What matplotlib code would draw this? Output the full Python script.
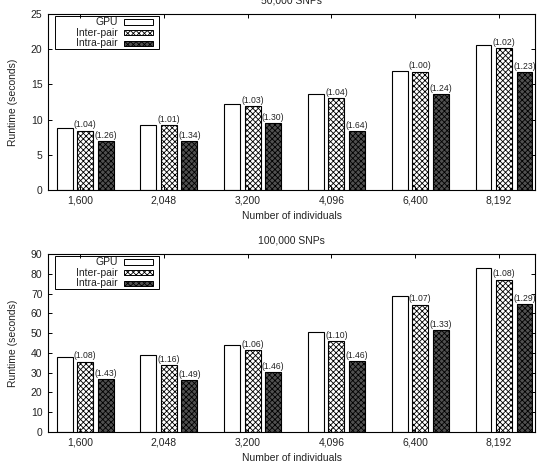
import matplotlib
matplotlib.use("Agg")
import matplotlib.pyplot as plt
from matplotlib.patches import Rectangle

plt.rcParams['font.family'] = ['Liberation Sans', 'DejaVu Sans']
plt.rcParams['hatch.linewidth'] = 0.6

individuals = ["1,600", "2,048", "3,200", "4,096", "6,400", "8,192"]
series = ["GPU", "Inter-pair", "Intra-pair"]

# 50,000 SNPs
gpu_50k = [8.76, 9.28, 12.26, 13.59, 16.86, 20.55]
inter_50k = [8.43, 9.19, 11.93, 13.07, 16.81, 20.12]
intra_50k = [6.91, 6.96, 9.47, 8.33, 13.64, 16.76]
inter_lbl_50k = ["(1.04)", "(1.01)", "(1.03)", "(1.04)", "(1.00)", "(1.02)"]
intra_lbl_50k = ["(1.26)", "(1.34)", "(1.30)", "(1.64)", "(1.24)", "(1.23)"]

# 100,000 SNPs
gpu_100k = [37.9, 38.7, 44.0, 50.4, 68.9, 83.1]
inter_100k = [35.5, 33.7, 41.3, 46.0, 64.3, 77.0]
intra_100k = [26.7, 26.2, 30.3, 35.7, 51.6, 64.5]
inter_lbl_100k = ["(1.08)", "(1.16)", "(1.06)", "(1.10)", "(1.07)", "(1.08)"]
intra_lbl_100k = ["(1.43)", "(1.49)", "(1.46)", "(1.46)", "(1.33)", "(1.29)"]

styles = [dict(facecolor="white", hatch=None),
          dict(facecolor="white", hatch="xxxxxx"),
          dict(facecolor="#505050", hatch="xxxxxx")]
TXT = "#222222"
W, H = 544, 463


def panel(ax, title, vals, inter_lbl, intra_lbl, ymax, ystep, ax_h_px):
    x = list(range(len(individuals)))
    bw = 0.19
    for k, v in enumerate(vals):
        pos = [i + (k - 1) * 0.245 + 0.06 for i in x]
        bars = ax.bar(pos, v, bw, edgecolor="black", linewidth=0.8, **styles[k])
        if k == 1:
            lbls = inter_lbl
        elif k == 2:
            lbls = intra_lbl
        else:
            continue
        for b, t in zip(bars, lbls):
            ax.text(b.get_x() + b.get_width() / 2, b.get_height() + ymax * 0.008, t,
                    ha="center", va="bottom", fontsize=6.2, color=TXT)
    ax.set_xlim(-0.383, 5.43)
    ax.set_ylim(0, ymax)
    ax.set_yticks(range(0, ymax + 1, ystep))
    ax.set_xticks(x)
    ax.set_xticklabels(individuals)
    ax.tick_params(direction="in", length=3, width=0.7, labelsize=7.5,
                   top=True, right=True, labelcolor=TXT, pad=4)
    for s in ax.spines.values():
        s.set_linewidth(0.8)
    ax.set_title(title, fontsize=7.5, color=TXT, pad=7.5)
    ax.set_xlabel("Number of individuals", fontsize=7.5, color=TXT, labelpad=4)
    ax.set_ylabel("Runtime (seconds)", fontsize=7.5, color=TXT, labelpad=9)

    # gnuplot style key: label right-aligned, sample to the right
    ax_w_px = 487.0
    fx = lambda px: px / ax_w_px
    fy = lambda px: 1 - px / ax_h_px
    ax.add_patch(Rectangle((fx(7), fy(35)), fx(104), 33 / ax_h_px,
                           transform=ax.transAxes, fill=False,
                           edgecolor="black", linewidth=0.7))
    for k, name in enumerate(series):
        yc = 8 + k * 10.6
        ax.text(fx(70), fy(yc), name, transform=ax.transAxes, ha="right",
                va="center", fontsize=7.5, color=TXT)
        ax.add_patch(Rectangle((fx(76), fy(yc + 2.6)), fx(29), 5.2 / ax_h_px,
                               transform=ax.transAxes, edgecolor="black",
                               linewidth=0.7, **styles[k]))


fig = plt.figure(figsize=(W / 100, H / 100), dpi=100)
ax1 = fig.add_axes([48 / W, 1 - 190 / H, 487 / W, 176 / H])
ax2 = fig.add_axes([48 / W, 1 - 432 / H, 487 / W, 178 / H])

panel(ax1, "50,000 SNPs", [gpu_50k, inter_50k, intra_50k],
      inter_lbl_50k, intra_lbl_50k, 25, 5, 176.0)
panel(ax2, "100,000 SNPs", [gpu_100k, inter_100k, intra_100k],
      inter_lbl_100k, intra_lbl_100k, 90, 10, 178.0)

fig.savefig("out.png", dpi=100)
